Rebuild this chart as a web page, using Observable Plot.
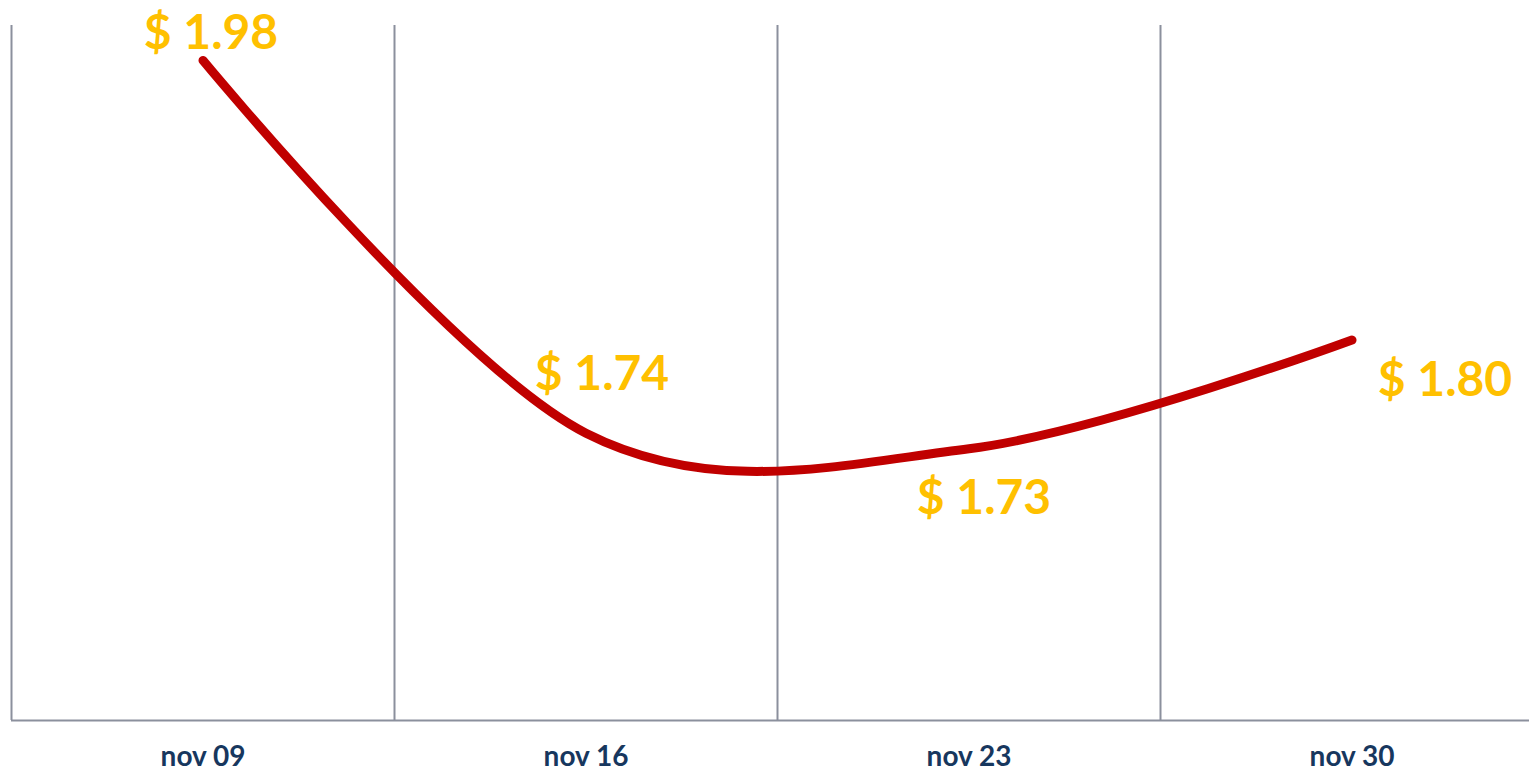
<!DOCTYPE html>
<html>
<head>
<meta charset="utf-8">
<script src="https://cdn.jsdelivr.net/npm/d3@7"></script>
<script src="https://cdn.jsdelivr.net/npm/@observablehq/plot@0.6"></script>
<style>
  html, body { margin: 0; padding: 0; background: #ffffff; overflow: hidden; }
  #chart svg { display: block; }
</style>
</head>
<body>
<div id="chart"></div>
<script>
// ---- data ----
const dates = ["nov 09", "nov 16", "nov 23", "nov 30"];
const prices = [1.98, 1.74, 1.73, 1.80];
const priceLabels = ["$ 1.98", "$ 1.74", "$ 1.73", "$ 1.80"];

// ---- layout (label offsets in px, like the manually placed data labels) ----
const labelDx = [8, 16, 15, 93];
const labelDy = [-27, -59, 50, 41];

const data = dates.map((d, i) => ({i, date: d, price: prices[i], label: priceLabels[i]}));
const boundaries = dates.map((d, i) => i - 0.5);

const W = 1529, H = 771;
const gridColor = "#8b909d";

const marks = [
  Plot.ruleX(boundaries, {stroke: gridColor, strokeWidth: 2}),
  Plot.ruleY([1.555], {stroke: gridColor, strokeWidth: 2}),
  Plot.axisX(dates.map((d, i) => i), {
    tickSize: 0, tickPadding: 26, label: null,
    tickFormat: i => dates[i],
    fontSize: 28, fontWeight: "bold", fill: "#17375e"
  }),
  Plot.line(data, {x: "i", y: "price", stroke: "#c00000", strokeWidth: 9,
    curve: "cardinal", strokeLinecap: "round", strokeLinejoin: "round"}),
  ...data.map((d, k) => Plot.text([d], {
    x: "i", y: "price", text: "label",
    dx: labelDx[k], dy: labelDy[k],
    fill: "#ffc000", fontSize: 48, fontWeight: "bold", textAnchor: "middle", lineAnchor: "middle"
  }))
];

const chart = Plot.plot({
  width: W, height: H,
  marginLeft: 11, marginRight: 0, marginTop: 25, marginBottom: 51,
  style: {fontFamily: "Lato, sans-serif", background: "#ffffff", overflow: "visible"},
  x: {type: "linear", domain: [-0.5, dates.length - 0.5], range: [11, 1543], axis: null, label: null},
  y: {domain: [1.555, 2.0025], axis: null},
  marks
});
document.getElementById("chart").appendChild(chart);
</script>
</body>
</html>
